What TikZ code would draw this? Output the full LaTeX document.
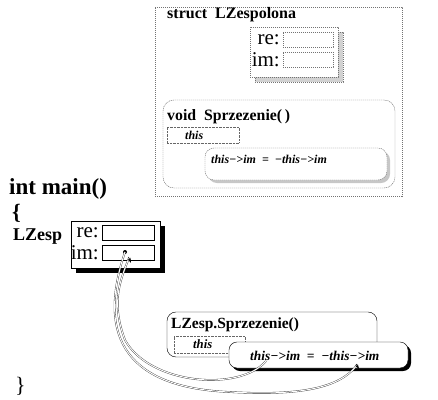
\documentclass[tikz,border=0pt]{standalone}
\usepackage{fontspec}
\setmainfont{Liberation Serif}
\usetikzlibrary{arrows.meta}
\begin{document}
\begin{tikzpicture}[x=1pt,y=-1pt,
  box/.style={anchor=north west, inner sep=0pt, outer sep=0pt},
  graydash/.style={draw=black!55, dash pattern=on 1.2pt off 0.8pt, line width=0.45pt},
  dotbox/.style={draw=black!60, dash pattern=on 0.6pt off 0.8pt, line width=0.45pt},
  thin/.style={draw=black, line width=0.45pt},
  txt/.style={anchor=west, inner sep=0pt},
  bt/.style={txt, font=\bfseries\fontsize{16}{16}\selectfont},
  bi/.style={txt, font=\bfseries\itshape\fontsize{12}{12}\selectfont},
  fld/.style={anchor=east, inner sep=0pt, font=\fontsize{21}{21}\selectfont},
  link/.style={double=white, double distance=1pt, line width=0.35pt, draw=black!80},
  tip/.style={-{Stealth[length=5pt,width=3.2pt]}, line width=0.6pt, draw=black}
]
\useasboundingbox (0,0) rectangle (438,399);

% ---------- struct ----------
\node[box, graydash, minimum width=247, minimum height=189] (struct) at (155,7) {};
\node[bt] (stitle) at (167,15) {struct\ \ LZespolona};
\fill[black!18] (255,32) rectangle (343,82);
\draw[graydash] (255,32) rectangle (343,82);
\node[box, graydash, fill=white, minimum width=88, minimum height=50] (sfields) at (250,27) {};
\node[box, graydash, minimum width=50, minimum height=15] (sre) at (283,32) {};
\node[box, graydash, minimum width=50, minimum height=15] (sim) at (283,52) {};
\node[fld] (srel) at (280,40) {re:};
\node[fld] (siml) at (280,60) {im:};

\node[box, graydash, rounded corners=11, minimum width=232, minimum height=88] (sfun) at (163,100) {};
\node[txt, font=\bfseries\fontsize{15.8}{15.8}\selectfont] (sfuntitle) at (167,117) {void\ \ Sprzezenie(\,)};
\node[box, dotbox, minimum width=72, minimum height=16] (sthisbox) at (167,127) {};
\node[bi] (sthis) at (185,135) {this};
\fill[black!22, rounded corners=9] (208,151) rectangle (390,183);
\node[box, graydash, fill=white, rounded corners=9, minimum width=182, minimum height=32] (sstmt) at (205,148) {};
\node[bi] (sstmttext) at (211,159) {this−>im\ \ =\ \ −this−>im};

% ---------- main ----------
\node[txt, font=\bfseries\fontsize{23}{23}\selectfont] (mainhead) at (9,189) {int main()};
\node[txt, font=\bfseries\fontsize{22}{22}\selectfont] (lbrace) at (12,213) {\{};
\node[txt, font=\bfseries\fontsize{18}{18}\selectfont] (lzesp) at (13,237) {LZesp};
\fill[black] (76,226) rectangle (165,273);
\node[box, thin, fill=white, minimum width=89, minimum height=47] (mbox) at (71,221) {};
\node[box, thin, minimum width=52, minimum height=15] (mre) at (102,225) {};
\node[box, thin, minimum width=52, minimum height=15] (mim) at (102,245) {};
\node[fld] (mrel) at (99,233) {re:};
\node[fld] (miml) at (99,253) {im:};
\fill[black] (125,252) circle (2pt);
\coordinate (dot) at (125,252);
\coordinate (imtip) at (131,263);

% ---------- call ----------
\node[box, thin, rounded corners=9, minimum width=210, minimum height=45] (call) at (167,312) {};
\node[txt, font=\bfseries\fontsize{15.5}{15.5}\selectfont] (calltitle) at (171,325) {LZesp.Sprzezenie()};
\node[box, dotbox, minimum width=71, minimum height=17] (cthisbox) at (174,336) {};
\node[txt, font=\bfseries\itshape\fontsize{12.7}{12.7}\selectfont] (cthis) at (193,344) {this};
\fill[black, rounded corners=8] (232,345) rectangle (411,371);
\node[box, thin, fill=white, rounded corners=8, minimum width=179, minimum height=26] (cstmt) at (229,342) {};
\node[txt, font=\bfseries\itshape\fontsize{13.4}{13.4}\selectfont] (cstmttext) at (250,356) {this−>im\ \ =\ \ −this−>im};
\coordinate (thisstart) at (266,361);
\coordinate (rtip) at (359,369);

\node[txt, font=\fontsize{22}{22}\selectfont] (rbrace) at (15,386) {\}};

% ---------- links ----------
\draw[link] (dot) .. controls (95,340) and (130,388) .. (230,392) .. controls (300,396) and (340,388) .. ([xshift=-2pt,yshift=4pt]rtip);
\draw[tip] ([xshift=-3pt,yshift=5pt]rtip) -- (rtip);
\draw[link] (thisstart) .. controls (240,392) and (150,385) .. (125,340) .. controls (112,305) and (118,285) .. ([xshift=-2pt,yshift=5pt]imtip);
\draw[tip] ([xshift=-2.5pt,yshift=6pt]imtip) -- (imtip);
\end{tikzpicture}
\end{document}
